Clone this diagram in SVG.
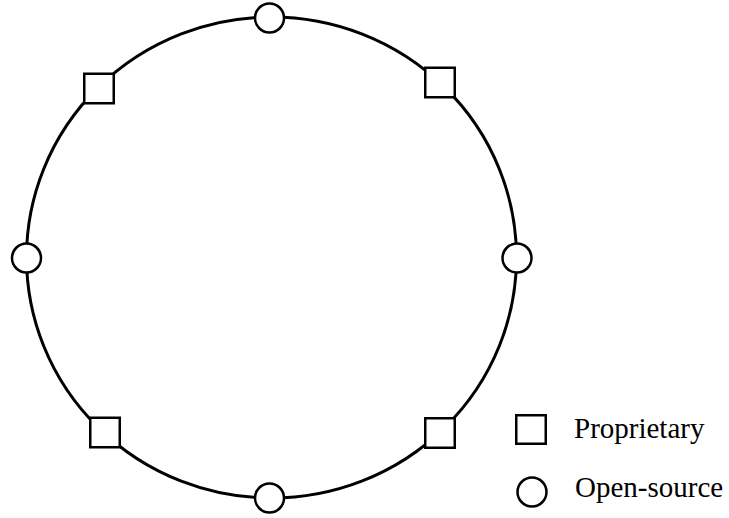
<svg xmlns="http://www.w3.org/2000/svg" width="729" height="518" viewBox="0 0 729 518">
<style>
.ring{fill:none;stroke:#000;stroke-width:3}
.node{fill:#fff;stroke:#000;stroke-width:2.5}
.lbl{font-family:"Liberation Serif","Times New Roman",serif;font-size:29px;fill:#000}
</style>
<rect width="729" height="518" fill="#fff"/>
<g id="connectors">
<ellipse class="ring" cx="271.5" cy="257.5" rx="245" ry="240.5"/>
</g>
<g id="n-top"><circle class="node" cx="269.5" cy="18" r="14.5"/></g>
<g id="n-bottom"><circle class="node" cx="269.5" cy="498" r="14.5"/></g>
<g id="n-left"><circle class="node" cx="26.5" cy="258" r="14.5"/></g>
<g id="n-right"><circle class="node" cx="517" cy="258" r="14.5"/></g>
<g id="n-tl"><rect class="node" x="84.25" y="73.75" width="29.5" height="29.5"/></g>
<g id="n-tr"><rect class="node" x="425.25" y="67.75" width="29.5" height="29.5"/></g>
<g id="n-bl"><rect class="node" x="90.25" y="417.75" width="29.5" height="29.5"/></g>
<g id="n-br"><rect class="node" x="425.25" y="418.25" width="29.5" height="29.5"/></g>
<g id="legend">
<rect class="node" x="516.25" y="415.25" width="29.5" height="28.5"/>
<text class="lbl" x="574" y="438">Proprietary</text>
<circle class="node" cx="532" cy="492" r="14.5"/>
<text class="lbl" x="575" y="497">Open-source</text>
</g>
</svg>
